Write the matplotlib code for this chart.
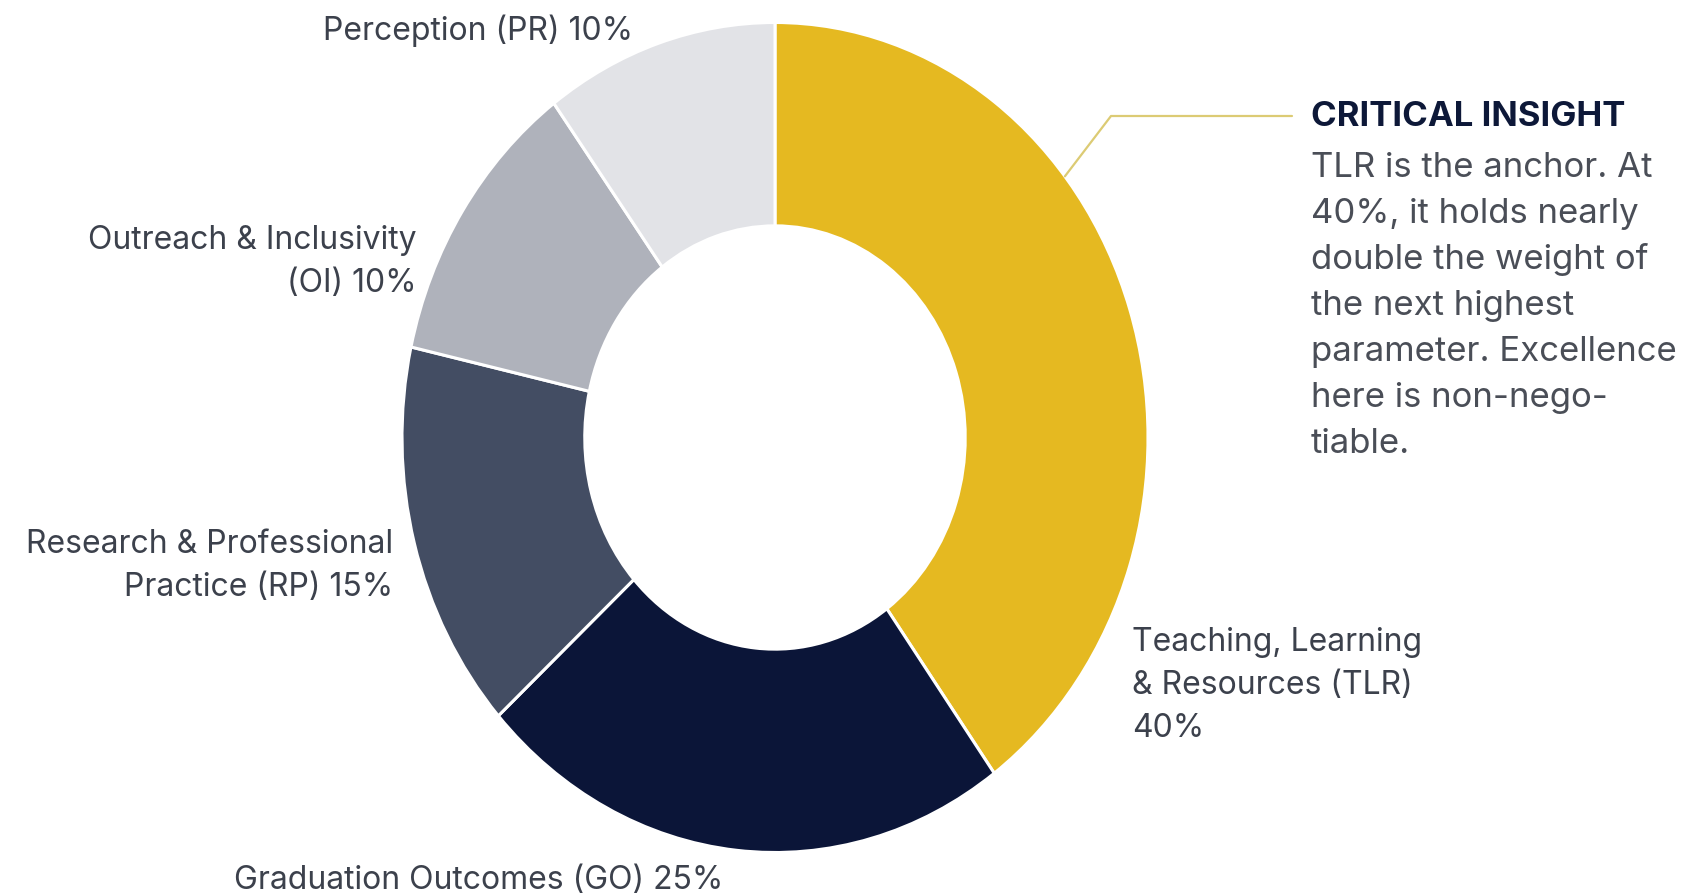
import numpy as np
import matplotlib.pyplot as plt

# data (label text as printed; wedge shares as drawn in the reference)
labels = ["Teaching, Learning\n& Resources (TLR)\n40%",
          "Graduation Outcomes (GO) 25%",
          "Research & Professional\nPractice (RP) 15%",
          "Outreach & Inclusivity\n(OI) 10%",
          "Perception (PR) 10%"]
weights = [40, 23.3, 15.2, 11.4, 10.1]
colors = ["#E5B921", "#0B1538", "#434D63", "#AFB2BB", "#E2E3E7"]

insight_title = "CRITICAL INSIGHT"
insight_lines = ["TLR is the anchor. At", "40%, it holds nearly",
                 "double the weight of", "the next highest",
                 "parameter. Excellence", "here is non-nego-", "tiable."]

W, H = 1687, 896
cx, cy = 775, 437.5      # donut centre, pixels from top-left
rx, ry = 373, 415        # the reference donut is slightly stretched

plt.rcParams['font.family'] = ['Inter', 'DejaVu Sans']
fig = plt.figure(figsize=(W / 100, H / 100), dpi=100)

# pie axes sized so the unit circle maps onto the ellipse
ax = fig.add_axes([(cx - rx) / W, (H - cy - ry) / H, 2 * rx / W, 2 * ry / H])
ax.pie(weights, colors=colors, startangle=90, counterclock=False,
       radius=1.0, wedgeprops=dict(width=0.49, edgecolor="white", linewidth=2.2))
ax.set_aspect('auto')
ax.set_xlim(-1, 1)
ax.set_ylim(-1, 1)
ax.axis('off')

# overlay in pixel coordinates for the text
tx = fig.add_axes([0, 0, 1, 1])
tx.set_xlim(0, W)
tx.set_ylim(H, 0)
tx.axis('off')
tx.patch.set_alpha(0)

lab_col = "#3C414C"
fs = 23
lab_pos = [(1132, 651, 'left'), (723, 889, 'right'), (393, 553, 'right'),
           (417, 249, 'right'), (633, 40, 'right')]
for text, (x, y, ha) in zip(labels, lab_pos):
    for i, line in enumerate(text.split("\n")):
        tx.text(x, y + i * 43, line, ha=ha, va='baseline', fontsize=fs, color=lab_col)

# leader line from the TLR wedge to the insight block
ang = np.deg2rad(39)
x0, y0 = cx + rx * np.cos(ang), cy - ry * np.sin(ang)
tx.plot([x0, 1111, 1292], [y0, 116, 116], color="#DCCB74", lw=1.6,
        solid_capstyle='round')

tx.text(1311, 126, insight_title, ha='left', va='baseline', fontsize=25,
        fontweight='bold', color="#0D1838")
for i, line in enumerate(insight_lines):
    tx.text(1311, 177 + i * 46, line, ha='left', va='baseline', fontsize=25,
            color="#4A4E57")

fig.savefig("out.png", dpi=100, facecolor="white")
